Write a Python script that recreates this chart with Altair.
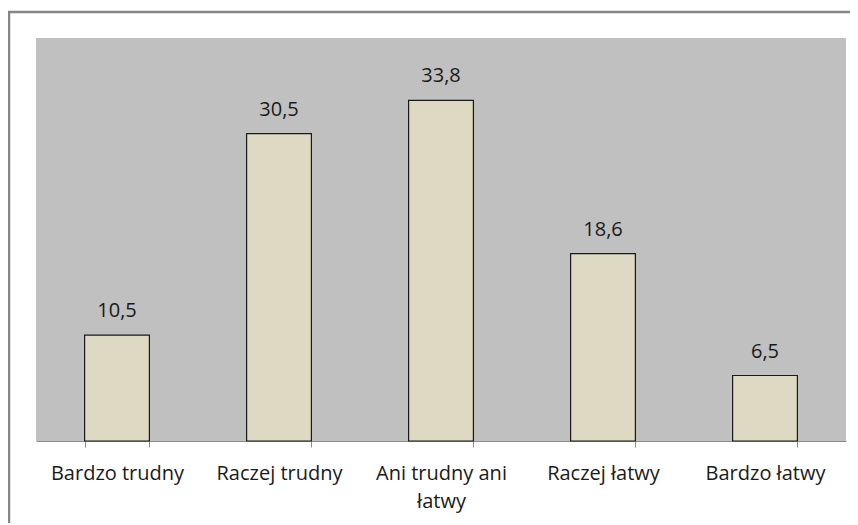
import altair as alt
import pandas as pd

categories = ["Bardzo trudny", "Raczej trudny", "Ani trudny ani łatwy", "Raczej łatwy", "Bardzo łatwy"]
values = [10.5, 30.5, 33.8, 18.6, 6.5]
value_labels = ["10,5", "30,5", "33,8", "18,6", "6,5"]

df = pd.DataFrame({"cat": categories, "val": values, "lab": value_labels})

FONT = "Open Sans"

x = alt.X("cat:N", sort=categories, title=None,
          scale=alt.Scale(paddingInner=0.6, paddingOuter=0.3),
          axis=alt.Axis(labelAngle=0, labelFont=FONT, labelFontSize=20, labelColor="#1a1a1a",
                        labelPadding=16, domainColor="#8c8c8c", tickColor="#8c8c8c",
                        tickBand="extent", tickSize=6, labelLimit=200,
                        labelExpr="datum.label == 'Ani trudny ani łatwy' ? ['Ani trudny ani', 'łatwy'] : datum.label",
                        labelLineHeight=28))
y = alt.Y("val:Q", title=None, scale=alt.Scale(domain=[0, 40], nice=False),
          axis=None)

bars = alt.Chart(df).mark_bar(color="#DDD9C3", stroke="#1a1a1a", strokeWidth=1.2).encode(x=x, y=y)
text = alt.Chart(df).mark_text(dy=-24, font=FONT, fontSize=20, color="#1a1a1a").encode(
    x=alt.X("cat:N", sort=categories), y="val:Q", text="lab:N")

border = alt.Chart(df.head(1)).mark_rect(fill=None, stroke="#868686", strokeWidth=2.5).encode(
    x=alt.value(-27), y=alt.value(-26), x2=alt.value(1000), y2=alt.value(700))

chart = alt.layer(bars, text, border).properties(
    width=810, height=403,
    autosize=alt.AutoSizeParams(type="none"),
    padding={"left": 28, "top": 30, "right": 4, "bottom": 82},
).configure_view(fill="#C0C0C0", stroke=None)

chart.save("out.html", embed_options={"renderer": "svg", "actions": False})
